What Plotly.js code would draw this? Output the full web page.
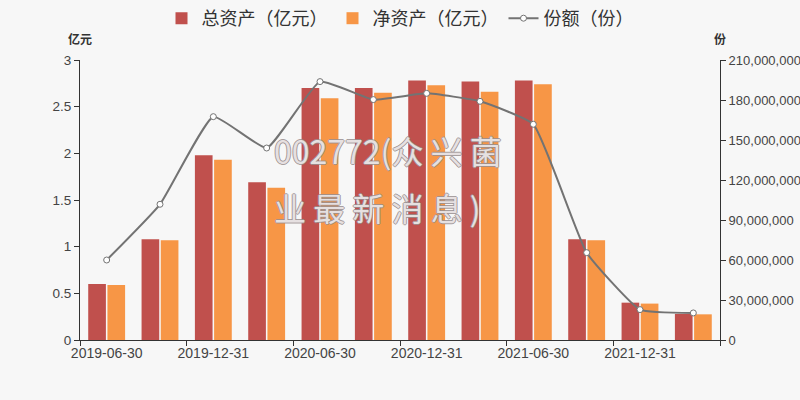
<!DOCTYPE html>
<html>
<head>
<meta charset="utf-8">
<script src="https://cdn.plot.ly/plotly-3.0.1.min.js"></script>
<style>
  html, body { margin: 0; padding: 0; background: #f7f7f7; }
  #chart { width: 800px; height: 400px; }
</style>
</head>
<body>
<div id="chart"></div>
<script>
const categories = ["2019-06-30","2019-09-30","2019-12-31","2020-03-31","2020-06-30","2020-09-30",
                    "2020-12-31","2021-03-31","2021-06-30","2021-09-30","2021-12-31","2022-03-31"];
const totalAssets = [0.60, 1.08, 1.98, 1.69, 2.70, 2.70, 2.78, 2.77, 2.78, 1.08, 0.40, 0.28];
const netAssets   = [0.59, 1.07, 1.93, 1.63, 2.59, 2.65, 2.73, 2.66, 2.74, 1.07, 0.39, 0.275];
const shares      = [60000000, 101800000, 167500000, 144000000, 193800000, 180300000,
                     185000000, 179000000, 161800000, 65500000, 22800000, 20300000];
const seriesNames = ["总资产（亿元）", "净资产（亿元）", "份额（份）"];
const leftUnit = "亿元";
const rightUnit = "份";
const watermark1 = "002772(众 兴 菌";
const watermark2 = "业 最 新 消 息 )";

const cjk = '"Noto Sans CJK SC", "Liberation Sans", sans-serif';
const num = '"Liberation Sans", Arial, "Noto Sans CJK SC", sans-serif';

const traces = [
  { type: 'bar', name: seriesNames[0], x: categories, y: totalAssets,
    marker: { color: '#c0504d' } },
  { type: 'bar', name: seriesNames[1], x: categories, y: netAssets,
    marker: { color: '#f79646' } },
  { type: 'scatter', name: seriesNames[2], x: categories, y: shares, yaxis: 'y2',
    mode: 'lines+markers',
    line: { color: '#737373', width: 2, shape: 'spline', smoothing: 0.4 },
    marker: { symbol: 'circle', size: 6, color: '#ffffff', line: { color: '#737373', width: 1 } } }
];

const shadow = '1px 0 0 #9a8f90, -1px 0 0 #9a8f90, 0 1px 0 #9a8f90, 0 -1px 0 #9a8f90';

const layout = {
  width: 800, height: 400,
  paper_bgcolor: '#f7f7f7', plot_bgcolor: '#f7f7f7',
  margin: { l: 80, r: 80, t: 60, b: 60 },
  barmode: 'group', bargap: 0.28, bargroupgap: 0.08,
  font: { family: num, color: '#444', size: 13 },
  showlegend: true,
  legend: { orientation: 'h', x: 0.5, xanchor: 'center', y: 1.0, yref: 'container', yanchor: 'top',
            itemwidth: 30,
            font: { family: cjk, size: 18, color: '#333' }, bgcolor: 'rgba(0,0,0,0)' },
  xaxis: { type: 'category', range: [-0.5, 11.5], autorange: false,
           tickmode: 'linear', tick0: 0, dtick: 2, tickson: 'boundaries', tickangle: 0,
           showline: true, linecolor: '#333', linewidth: 1, ticks: 'outside', ticklen: 5, tickcolor: '#333',
           showgrid: false, zeroline: false, tickfont: { family: num, size: 14, color: '#444' } },
  yaxis: { range: [0, 3], dtick: 0.5, showline: true, linecolor: '#333', ticks: 'outside', ticklen: 5,
           tickcolor: '#333', showgrid: false, zeroline: false,
           tickfont: { family: num, size: 13.5, color: '#444' } },
  yaxis2: { overlaying: 'y', side: 'right', range: [0, 210000000], dtick: 30000000, tickformat: ',',
            showline: true, linecolor: '#333', ticks: 'outside', ticklen: 5, tickcolor: '#333',
            showgrid: false, zeroline: false, tickfont: { family: num, size: 13, color: '#444' } },
  annotations: [
    { text: leftUnit, xref: 'paper', yref: 'paper', x: 0, y: 1, yshift: 22, xanchor: 'center', yanchor: 'middle',
      showarrow: false, font: { family: cjk, size: 12, color: '#333', weight: 'bold' } },
    { text: rightUnit, xref: 'paper', yref: 'paper', x: 1, y: 1, yshift: 22, xanchor: 'center', yanchor: 'middle',
      showarrow: false, font: { family: cjk, size: 12, color: '#333', weight: 'bold' } },
    { text: watermark1, xref: 'paper', yref: 'paper', x: 0.3, y: 0.68, xanchor: 'left', yanchor: 'middle',
      showarrow: false, font: { family: cjk, size: 32, color: 'rgba(245,240,240,0.85)', shadow: shadow } },
    { text: watermark2, xref: 'paper', yref: 'paper', x: 0.3, y: 0.475, xanchor: 'left', yanchor: 'middle',
      showarrow: false, font: { family: cjk, size: 32, color: 'rgba(245,240,240,0.85)', shadow: shadow } }
  ]
};

Plotly.newPlot('chart', traces, layout, { displayModeBar: false, staticPlot: true });
</script>
</body>
</html>
